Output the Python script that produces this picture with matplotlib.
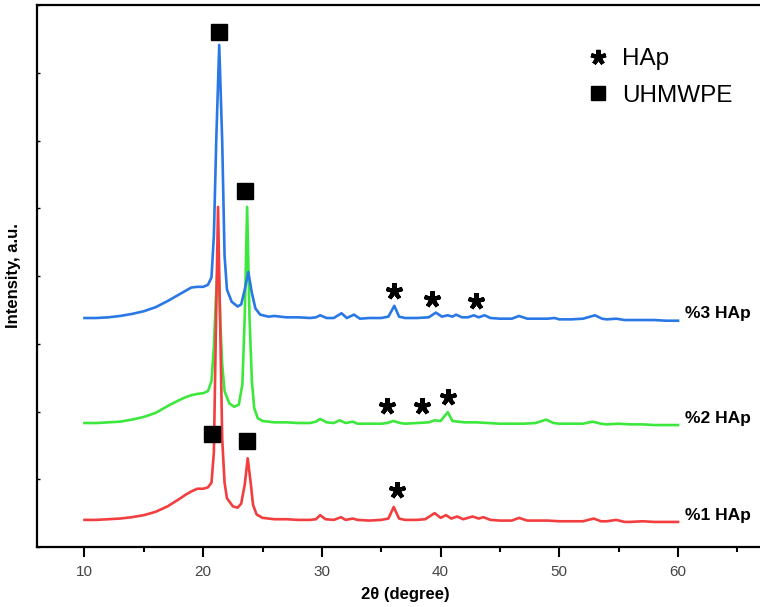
import matplotlib
matplotlib.use("Agg")
import matplotlib.pyplot as plt
from matplotlib.lines import Line2D
from matplotlib.ticker import MultipleLocator, NullFormatter

plt.rcParams['font.family'] = ['Liberation Sans', 'DejaVu Sans']

# ---------------- data ----------------
# %1 HAp (red)
red_x = [10, 11, 12, 13, 14, 15, 16, 17, 18, 18.5, 19, 19.5, 20, 20.4, 20.7, 20.9, 21.05, 21.25, 21.45,
         21.6, 21.8, 22.0, 22.5, 22.9, 23.2, 23.5, 23.75, 24.0, 24.2, 24.5, 25, 26, 27, 28, 29, 29.5,
         29.85, 30.3, 31, 31.6, 32, 32.6, 33, 34, 35, 35.6, 36.05, 36.5, 37, 38, 38.7, 39.5, 40.0,
         40.45, 40.9, 41.4, 41.9, 42.7, 43.2, 43.6, 44.2, 45, 46, 46.6, 47.3, 48, 49, 50, 51, 52, 52.9,
         53.5, 54, 54.8, 55.5, 56, 57, 58, 59, 60]
red_y = [0.40, 0.40, 0.41, 0.42, 0.44, 0.47, 0.52, 0.60, 0.71, 0.77, 0.82, 0.86, 0.86, 0.88, 0.95, 1.40,
         3.00, 5.02, 3.10, 1.60, 0.95, 0.72, 0.60, 0.58, 0.64, 0.92, 1.31, 0.95, 0.62, 0.48, 0.43, 0.41,
         0.41, 0.40, 0.40, 0.41, 0.47, 0.41, 0.40, 0.44, 0.40, 0.42, 0.40, 0.39, 0.40, 0.42, 0.59, 0.42,
         0.40, 0.40, 0.41, 0.50, 0.43, 0.47, 0.42, 0.45, 0.41, 0.45, 0.42, 0.44, 0.40, 0.39, 0.39, 0.43,
         0.39, 0.39, 0.39, 0.38, 0.38, 0.38, 0.42, 0.38, 0.38, 0.40, 0.37, 0.37, 0.38, 0.37, 0.37, 0.37]

# %2 HAp (green)
green_x = [10, 11, 12, 13, 14, 15, 16, 17, 18, 18.5, 19, 19.5, 20, 20.4, 20.7, 20.9, 21.05, 21.25, 21.45,
           21.6, 21.8, 22.2, 22.6, 23.0, 23.3, 23.5, 23.7, 23.9, 24.1, 24.3, 24.6, 25, 26, 27, 28, 29,
           29.5, 29.85, 30.4, 31, 31.5, 32, 32.6, 33, 34, 35, 35.5, 36.0, 36.6, 37, 38, 39, 39.5, 40.0,
           40.6, 41.0, 41.5, 42, 43, 44, 45, 46, 47, 48, 48.9, 49.5, 50, 51, 52, 52.8, 53.5, 54, 55,
           56, 57, 58, 59, 60]
green_y = [1.83, 1.83, 1.84, 1.85, 1.88, 1.92, 1.98, 2.08, 2.17, 2.21, 2.24, 2.26, 2.27, 2.30, 2.45, 2.95,
           3.60, 4.28, 3.30, 2.70, 2.30, 2.12, 2.07, 2.10, 2.40, 3.40, 5.02, 3.40, 2.45, 2.05, 1.90, 1.86,
           1.84, 1.84, 1.83, 1.83, 1.85, 1.89, 1.84, 1.83, 1.87, 1.83, 1.85, 1.82, 1.82, 1.82, 1.83, 1.86,
           1.83, 1.82, 1.83, 1.84, 1.87, 1.86, 1.99, 1.86, 1.85, 1.84, 1.84, 1.83, 1.82, 1.82, 1.82, 1.83,
           1.88, 1.83, 1.82, 1.82, 1.82, 1.85, 1.82, 1.81, 1.82, 1.81, 1.81, 1.80, 1.80, 1.80]

# %3 HAp (blue)
blue_x = [10, 11, 12, 13, 14, 15, 16, 17, 18, 18.5, 19, 19.5, 20, 20.4, 20.7, 20.9, 21.1, 21.35, 21.6,
          21.8, 22.0, 22.4, 22.9, 23.2, 23.5, 23.8, 24.1, 24.4, 24.8, 25.5, 26, 27, 28, 29, 29.5, 29.85,
          30.4, 31, 31.65, 32.1, 32.7, 33.2, 34, 35, 35.6, 36.1, 36.5, 37, 38, 39, 39.6, 40.1, 40.6,
          41.0, 41.3, 41.8, 42.3, 42.8, 43.2, 43.7, 44.2, 45, 46, 46.6, 47.3, 48, 49, 49.6, 50, 51, 52,
          53.0, 53.6, 54, 54.8, 55.5, 56, 57, 58, 59, 60]
blue_y = [3.38, 3.38, 3.39, 3.41, 3.44, 3.48, 3.54, 3.63, 3.73, 3.78, 3.83, 3.84, 3.84, 3.87, 3.98, 4.60,
          6.00, 7.41, 6.00, 4.30, 3.80, 3.62, 3.55, 3.58, 3.80, 4.06, 3.75, 3.52, 3.43, 3.40, 3.41, 3.39,
          3.39, 3.38, 3.39, 3.42, 3.38, 3.38, 3.45, 3.38, 3.43, 3.37, 3.38, 3.38, 3.40, 3.56, 3.40, 3.38,
          3.38, 3.39, 3.46, 3.40, 3.42, 3.40, 3.43, 3.39, 3.39, 3.42, 3.39, 3.42, 3.38, 3.37, 3.37, 3.41,
          3.37, 3.37, 3.37, 3.38, 3.36, 3.36, 3.37, 3.42, 3.37, 3.36, 3.37, 3.35, 3.35, 3.35, 3.35, 3.34,
          3.34]

# peak markers
uhmwpe_x = [21.35, 23.55, 20.7, 23.65]
uhmwpe_y = [7.60, 5.25, 1.67, 1.56]
hap_x = [36.1, 39.3, 43.0, 35.5, 38.4, 40.6, 36.3]
hap_y = [3.78, 3.66, 3.63, 2.08, 2.08, 2.21, 0.84]

series_labels = ['%1 HAp', '%2 HAp', '%3 HAp']
label_y = [0.47, 1.90, 3.45]
legend_labels = ['HAp', 'UHMWPE']

# ---------------- figure ----------------
fig = plt.figure(figsize=(7.6, 6.07), dpi=100)
ax = fig.add_axes([37 / 760, 60 / 607, 736 / 760, 542 / 607])

c_red, c_green, c_blue = '#f23e3e', '#3de83d', '#2a78e6'
ax.plot(green_x, green_y, color=c_green, lw=1.9, zorder=2)
ax.plot(red_x, red_y, color=c_red, lw=1.9, zorder=3)
ax.plot(blue_x, blue_y, color=c_blue, lw=1.9, zorder=4)

ax.plot(uhmwpe_x, uhmwpe_y, ls='none', marker='s', ms=11, color='black', zorder=5)
ax.plot(hap_x, hap_y, ls='none', marker=(5, 2, 0), ms=12, mew=3, color='black', zorder=5)

for lab, ly in zip(series_labels, label_y):
    ax.text(60.6, ly, lab, ha='left', va='center', fontsize=12.5, fontweight='bold')

handles = [Line2D([], [], ls='none', marker=(5, 2, 0), ms=11, mew=3, color='black'),
           Line2D([], [], ls='none', marker='s', ms=10, color='black')]
ax.legend(handles, legend_labels, loc='upper left', bbox_to_anchor=(0.732, 0.938),
          frameon=False, fontsize=17.5, handlelength=1.0, handletextpad=0.5,
          labelspacing=0.6, borderaxespad=0)

ax.set_xlim(6, 68)
ax.set_ylim(0, 8)
ax.xaxis.set_minor_locator(MultipleLocator(5))
ax.set_xticks([10, 20, 30, 40, 50, 60])
ax.yaxis.set_major_locator(MultipleLocator(1))
ax.yaxis.set_major_formatter(NullFormatter())

ax.tick_params(axis='x', which='major', direction='out', length=7, width=1.5,
               labelsize=11, labelcolor='#444444', pad=6)
ax.tick_params(axis='x', which='minor', direction='out', length=3.5, width=1.5)
ax.tick_params(axis='y', which='major', direction='in', length=2, width=1)

for s in ax.spines.values():
    s.set_linewidth(1.6)
ax.spines['right'].set_visible(False)

ax.set_xlabel('2θ (degree)', fontsize=12, fontweight='bold', labelpad=6)
ax.set_ylabel('Intensity, a.u.', fontsize=12, fontweight='bold', labelpad=8)

fig.savefig('out.png', dpi=100)
